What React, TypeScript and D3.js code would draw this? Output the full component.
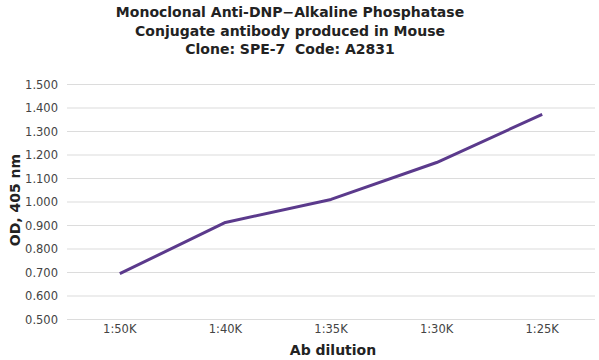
import React from "react";
import * as d3 from "d3";

const categories = ["1:50K", "1:40K", "1:35K", "1:30K", "1:25K"];
const odValues = [0.695, 0.913, 1.011, 1.168, 1.373];
const yTicks = [0.5, 0.6, 0.7, 0.8, 0.9, 1.0, 1.1, 1.2, 1.3, 1.4, 1.5];
const titleLines = [
  "Monoclonal Anti-DNP\u2212Alkaline Phosphatase",
  "Conjugate antibody produced in Mouse",
  "Clone: SPE-7\u00a0\u00a0Code: A2831",
];

export default function App() {
  const W = 599, H = 360;
  const left = 67, right = 595, top = 84.5, bottom = 319.5;
  const x = d3.scaleBand<string>().domain(categories).range([left, right]);
  const y = d3.scaleLinear().domain([0.5, 1.5]).range([bottom, top]);
  const line = d3
    .line<number>()
    .x((_, i) => (x(categories[i]) as number) + x.bandwidth() / 2)
    .y((d) => y(d));
  const font = "Verdana, 'DejaVu Sans', sans-serif";
  return (
    <svg width={W} height={H} style={{ position: "absolute", left: 0, top: 0 }} fontFamily={font}>
      <rect width={W} height={H} fill="#fff" />
      {titleLines.map((t, i) => (
        <text key={i} x={290} y={17 + i * 18.7} textAnchor="middle" fontSize={14} fontWeight="bold" fill="#222">
          {t}
        </text>
      ))}
      {yTicks.map((t) => (
        <g key={t}>
          <line x1={left} x2={right} y1={y(t)} y2={y(t)} stroke="#dcdcdc" strokeWidth={1.2} />
          <text x={58} y={y(t) + 4} textAnchor="end" fontSize={11.5} fill="#444">
            {d3.format(".3f")(t)}
          </text>
        </g>
      ))}
      {categories.map((c) => (
        <text key={c} x={(x(c) as number) + x.bandwidth() / 2} y={333} textAnchor="middle" fontSize={11.5} fill="#444">
          {c}
        </text>
      ))}
      <path d={line(odValues) || ""} fill="none" stroke="#5b3a8c" strokeWidth={3} strokeLinejoin="round" />
      <text x={333} y={355} textAnchor="middle" fontSize={14} fontWeight="bold" fill="#222">
        Ab dilution
      </text>
      <text transform={`translate(20,${(top + bottom) / 2 - 2}) rotate(-90)`} textAnchor="middle" fontSize={14} fontWeight="bold" fill="#222">
        OD, 405 nm
      </text>
    </svg>
  );
}
